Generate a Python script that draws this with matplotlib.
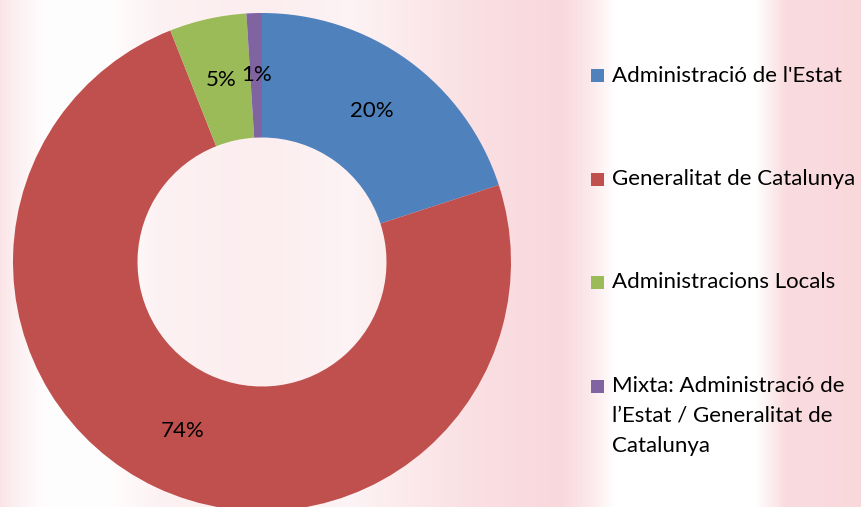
import matplotlib
matplotlib.use("Agg")
import matplotlib.pyplot as plt
import numpy as np
from matplotlib.patches import Rectangle

# chart data
categories = ["Administració de l'Estat",
              "Generalitat de Catalunya",
              "Administracions Locals",
              "Mixta: Administració de\nl\u2019Estat / Generalitat de\nCatalunya"]
shares = [20, 74, 5, 1]
colors = ["#4F81BD", "#C0504D", "#9BBB59", "#8064A2"]

W, H = 861, 507
plt.rcParams['font.family'] = ['Lato', 'DejaVu Sans']

fig = plt.figure(figsize=(W / 100, H / 100), dpi=100)

# soft pink watermark behind the chart (just decoration)
bg_ax = fig.add_axes([0, 0, 1, 1])
xs = np.arange(W)
px = [0, 15, 45, 110, 160, 260, 350, 470, 560, 588, 615, 755, 785, 861]
pa = [0.7, 0.4, 0.05, 0.05, 0.35, 0.45, 0.3, 0.8, 1.0, 0.6, 0.0, 0.0, 0.9, 1.0]
alpha = np.interp(xs, px, pa)
pink = np.array([249, 216, 220]) / 255.0
img = 1 - alpha[None, :, None] * (1 - pink[None, None, :])
img = np.repeat(img, H, axis=0)
bg_ax.imshow(img, aspect='auto', extent=[0, W, H, 0])
bg_ax.set_axis_off()

# donut: centre (262, 262) px from top-left, radius 249 px
cx, cy, r = 262, 262, 249
ax = fig.add_axes([(cx - r) / W, (H - cy - r) / H, 2 * r / W, 2 * r / H])
ax.set_facecolor('none')
wedges, texts, autotexts = ax.pie(
    shares, colors=colors, startangle=90, counterclock=False,
    autopct=lambda p: f"{p:.0f}%", pctdistance=0.75,
    wedgeprops=dict(width=0.5, edgecolor='none'),
    textprops=dict(fontsize=16, color='black'))
ax.set_xlim(-1, 1)
ax.set_ylim(-1, 1)
ax.set_aspect('equal')
ax.set_axis_off()

# legend drawn by hand so the square sits on the first line
leg_x, leg_y0, leg_step, line_h = 591, 75.5, 103.5, 30
for i, (lab, col) in enumerate(zip(categories, colors)):
    yc = leg_y0 + i * leg_step
    fig.patches.append(Rectangle((leg_x / W, 1 - (yc + 6.5) / H), 13 / W, 13 / H,
                                 transform=fig.transFigure, facecolor=col,
                                 edgecolor='none'))
    for j, line in enumerate(lab.split("\n")):
        fig.text(612 / W, 1 - (yc + j * line_h) / H, line, fontsize=16,
                 ha='left', va='center', color='black')

fig.savefig("out.png", dpi=100)
